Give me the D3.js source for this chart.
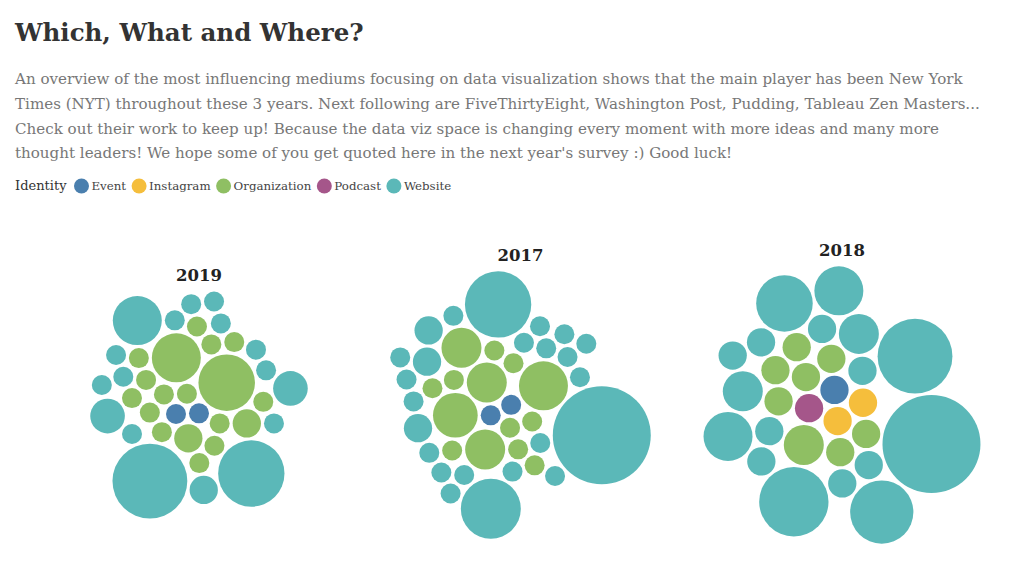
<!DOCTYPE html>
<html>
<head>
<meta charset="utf-8">
<script src="https://cdn.jsdelivr.net/npm/d3@7"></script>
<style>
  body { margin: 0; background: #fff; }
  svg { display: block; }
</style>
</head>
<body>
<svg id="chart" width="1024" height="573"></svg>
<script>
// --- data -------------------------------------------------------------
var years = ["2019", "2017", "2018"];
var categories = ["Event", "Instagram", "Organization", "Podcast", "Website"];
var catColors = ["#4a7fae", "#f5be3c", "#8fbf63", "#a5568a", "#5bb8b8"];

var titleText = "Which, What and Where?";
var descLines = [
  "An overview of the most influencing mediums focusing on data visualization shows that the main player has been New York",
  "Times (NYT) throughout these 3 years. Next following are FiveThirtyEight, Washington Post, Pudding, Tableau Zen Masters...",
  "Check out their work to keep up! Because the data viz space is changing every moment with more ideas and many more",
  "thought leaders! We hope some of you get quoted here in the next year's survey :) Good luck!"
];

// mentions per medium, grouped by identity (order = order of mediums in source list)
var event2019 = [1, 1];
var insta2019 = [];
var org2019 = [1, 2, 1, 8, 1, 6, 2, 1, 1, 1, 1, 1, 1, 1, 1, 1, 1, 1];
var podcast2019 = [];
var web2019 = [6, 3, 3, 1, 11, 1, 1, 14, 1, 1, 1, 1, 2, 1, 1, 1, 1];

var event2017 = [1, 1];
var insta2017 = [];
var org2017 = [1, 4, 5, 1, 1, 1, 1, 1, 6, 1, 1, 1, 4, 4];
var podcast2017 = [];
var web2017 = [1, 1, 1, 1, 2, 1, 1, 1, 9, 2, 1, 1, 1, 24, 2, 1, 1, 1, 1, 1, 11, 1, 1, 1];

var event2018 = [2];
var insta2018 = [2, 2];
var org2018 = [2, 4, 2, 2, 2, 2, 2, 2];
var podcast2018 = [2];
var web2018 = [2, 2, 2, 2, 2, 2, 6, 2, 2, 24, 6, 4, 10, 4, 14, 12, 8];

var yearData = {
  "2019": [event2019, insta2019, org2019, podcast2019, web2019],
  "2017": [event2017, insta2017, org2017, podcast2017, web2017],
  "2018": [event2018, insta2018, org2018, podcast2018, web2018]
};

// --- setup ------------------------------------------------------------
var svg = d3.select("#chart");
var color = d3.scaleOrdinal().domain(categories).range(catColors);
var radius = d3.scaleSqrt().domain([0, 1]).range([0, 10]);
var xYear = d3.scalePoint().domain(years).range([199, 842]);
var clusterY = 405;

// title + text
svg.append("text")
  .attr("x", 15).attr("y", 41)
  .attr("font-family", "DejaVu Serif")
  .attr("font-weight", "bold")
  .attr("font-size", 24.5)
  .attr("fill", "#333")
  .text(titleText);

svg.append("g").selectAll("text")
  .data(descLines)
  .enter().append("text")
  .attr("x", 15)
  .attr("y", function(d, i) { return 84 + i * 24.8; })
  .attr("font-family", "DejaVu Serif")
  .attr("font-size", 15.1)
  .attr("fill", "#777")
  .text(function(d) { return d; });

// legend
var legend = svg.append("g").attr("transform", "translate(15,186)");
var idText = legend.append("text")
  .attr("x", 0).attr("y", 4)
  .attr("font-family", "DejaVu Serif")
  .attr("font-size", 13)
  .attr("fill", "#333")
  .text("Identity");
var lx = idText.node().getComputedTextLength() + 15;

categories.forEach(function(c) {
  legend.append("circle")
    .attr("cx", lx).attr("cy", 0).attr("r", 7.5)
    .attr("fill", color(c));
  var t = legend.append("text")
    .attr("x", lx + 10).attr("y", 4)
    .attr("font-family", "DejaVu Serif")
    .attr("font-size", 11.8)
    .attr("fill", "#444")
    .text(c);
  lx += 10 + t.node().getComputedTextLength() + 13;
});

// --- bubbles ----------------------------------------------------------
function corePull(d) {
  if (d.cat == "Website") return 0.004;
  if (d.cat == "Organization") return 0.1;
  return 0.6;   // events, instagram, podcast sit in the middle
}

years.forEach(function(yr) {
  var nodes = [];
  yearData[yr].forEach(function(vals, ci) {
    vals.forEach(function(v) {
      nodes.push({ cat: categories[ci], value: v, r: radius(v) });
    });
  });

  // size of the non-website core, websites ring around it
  var coreArea = d3.sum(nodes, function(d) { return d.cat == "Website" ? 0 : d.r * d.r; });
  var coreR = Math.sqrt(coreArea / 0.78);

  var sim = d3.forceSimulation(nodes)
    .force("x", d3.forceX(0).strength(corePull))
    .force("y", d3.forceY(0).strength(corePull))
    .force("ring", d3.forceRadial(function(d) { return coreR + d.r * 0.7; })
      .strength(function(d) { return d.cat == "Website" ? 0.08 : 0; }))
    .force("collide", d3.forceCollide(function(d) { return d.r + 1.5; }).strength(1).iterations(4))
    .stop();
  for (var i = 0; i < 400; i++) sim.tick();

  // centre the packed cluster on its column
  var x0 = d3.min(nodes, function(d) { return d.x - d.r; }),
      x1 = d3.max(nodes, function(d) { return d.x + d.r; }),
      y0 = d3.min(nodes, function(d) { return d.y - d.r; }),
      y1 = d3.max(nodes, function(d) { return d.y + d.r; });
  var dx = xYear(yr) - (x0 + x1) / 2,
      dy = clusterY - (y0 + y1) / 2;

  var g = svg.append("g").attr("class", "cluster")
    .attr("transform", "translate(" + dx + "," + dy + ")");

  g.selectAll("circle")
    .data(nodes)
    .enter().append("circle")
    .attr("cx", function(d) { return d.x; })
    .attr("cy", function(d) { return d.y; })
    .attr("r", function(d) { return d.r; })
    .attr("fill", function(d) { return color(d.cat); });

  g.append("text")
    .attr("x", (x0 + x1) / 2)
    .attr("y", y0 - 10)
    .attr("text-anchor", "middle")
    .attr("font-family", "DejaVu Serif")
    .attr("font-weight", "bold")
    .attr("font-size", 16.5)
    .attr("fill", "#222")
    .text(yr);
});
</script>
</body>
</html>
